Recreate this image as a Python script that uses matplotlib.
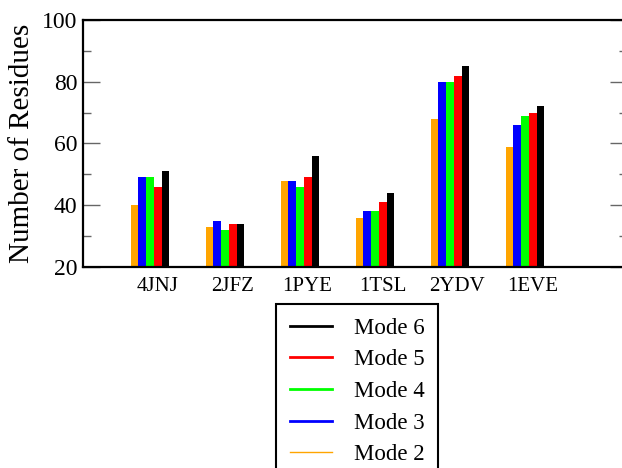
import matplotlib
matplotlib.use("Agg")
import matplotlib.pyplot as plt
import numpy as np
from matplotlib.lines import Line2D
from matplotlib.ticker import MultipleLocator

plt.rcParams['font.family'] = ['Liberation Serif', 'DejaVu Serif']

# proteins and number of residues per mode
proteins = ['4JNJ', '2JFZ', '1PYE', '1TSL', '2YDV', '1EVE']
mode2 = [40, 33, 48, 36, 68, 59]
mode3 = [49, 35, 48, 38, 80, 66]
mode4 = [49, 32, 46, 38, 80, 69]
mode5 = [46, 34, 49, 41, 82, 70]
mode6 = [51, 34, 56, 44, 85, 72]

series = [mode2, mode3, mode4, mode5, mode6]
labels = ['Mode 2', 'Mode 3', 'Mode 4', 'Mode 5', 'Mode 6']
colors = ['#FFA500', '#0000FF', '#00FF00', '#FF0000', '#000000']

fig = plt.figure(figsize=(6.22, 4.68), dpi=100)
ax = fig.add_axes([0.1334, 0.4295, 0.8746, 0.5278])

x = np.arange(1, len(proteins) + 1)
w = 0.103
for i, (vals, c) in enumerate(zip(series, colors)):
    ax.bar(x + (i - 2) * w, vals, width=w, color=c)

ax.set_ylim(20, 100)
ax.set_xlim(0.107, 7.36)
# labels sit slightly right of the bar groups in the original
ax.set_xticks(x + 0.1)
ax.set_xticklabels(proteins)
ax.yaxis.set_major_locator(MultipleLocator(20))
ax.yaxis.set_minor_locator(MultipleLocator(10))
ax.tick_params(axis='x', length=0, pad=7, labelsize=15)
ax.tick_params(axis='y', which='major', direction='in', length=12, width=1,
               color='#666666', left=True, right=True, labelsize=17, pad=4)
ax.tick_params(axis='y', which='minor', direction='in', length=6, width=1,
               color='#666666', left=True, right=True)
for s in ax.spines.values():
    s.set_linewidth(1.6)
ax.set_ylabel('Number of Residues', fontsize=21, labelpad=5)

# legend, listed from Mode 6 down to Mode 2
handles = []
for lab, c in zip(labels[::-1], colors[::-1]):
    lw = 1.0 if lab == 'Mode 2' else 2.0
    handles.append(Line2D([], [], color=c, lw=lw, label=lab))
leg = fig.legend(handles=handles, loc='upper left',
                 bbox_to_anchor=(276 / 622, 1 - 304 / 468),
                 borderaxespad=0, frameon=True, fancybox=False,
                 edgecolor='black', framealpha=1, fontsize=16.5,
                 handlelength=1.85, handletextpad=0.95, labelspacing=0.46,
                 borderpad=0.6)
leg.get_frame().set_linewidth(1.5)

fig.savefig('out.png', dpi=100)
